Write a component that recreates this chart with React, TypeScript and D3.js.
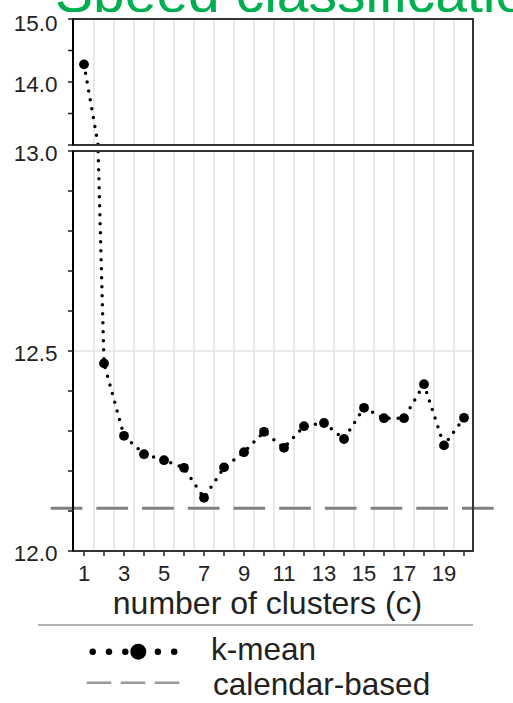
import React from 'react';
import * as d3 from 'd3';

// number of clusters and the k-mean speed error for each
const clusters = [1, 2, 3, 4, 5, 6, 7, 8, 9, 10, 11, 12, 13, 14, 15, 16, 17, 18, 19, 20];
const kMean = [14.28, 12.469, 12.288, 12.242, 12.227, 12.208, 12.133, 12.209, 12.247, 12.298,
  12.258, 12.312, 12.32, 12.28, 12.358, 12.332, 12.332, 12.417, 12.264, 12.333];
// calendar-based reference value
const calendarBased = 12.107;

const topTicks = [15, 14.5, 14, 13.5, 13];
const topLabels = ['15.0', '14.0'];
const bottomTicks = [13, 12.9, 12.8, 12.7, 12.6, 12.5, 12.4, 12.3, 12.2, 12.1, 12];
const bottomLabels = ['13.0', '12.5', '12.0'];
const xLabels = [1, 3, 5, 7, 9, 11, 13, 15, 17, 19];
const xGrid = d3.range(1.5, 20, 1);

const font = 'Liberation Sans, Arial, sans-serif';
const textColor = '#222';

const App = () => {
  const x = d3.scaleLinear().domain([0.45, 20.45]).range([73, 473]);
  const yTop = d3.scaleLinear().domain([13, 15]).range([145, 19]);
  const yBot = d3.scaleLinear().domain([12, 13]).range([551, 151]);

  const lineTop = d3.line<number>().x((_, i) => x(clusters[i])).y(d => yTop(d));
  const lineBot = d3.line<number>().x((_, i) => x(clusters[i])).y(d => yBot(d));

  const [x0, x1] = x.range();

  const panel = (y: d3.ScaleLinear<number, number>, line: d3.Line<number>, id: string) => {
    const [yb, yt] = y.range();
    return (
      <g>
        <clipPath id={id}>
          <rect x={x0} y={yt} width={x1 - x0} height={yb - yt} />
        </clipPath>
        <rect x={x0} y={yt} width={x1 - x0} height={yb - yt} fill="#fff" />
        {xGrid.map(g => (
          <line key={g} x1={x(g)} x2={x(g)} y1={yt} y2={yb} stroke="#e2e2e2" strokeWidth={1.5} />
        ))}
        <g clipPath={`url(#${id})`}>
          {y.domain()[0] <= 12.5 && y.domain()[1] >= 12.5 && (
            <line x1={x0} x2={x1} y1={y(12.5)} y2={y(12.5)} stroke="#e2e2e2" strokeWidth={1.5} />
          )}
          <path d={line(kMean) ?? ''} fill="none" stroke="#000" strokeWidth={3.5}
            strokeDasharray="0 9" strokeLinecap="round" />
          {kMean.map((v, i) => (
            <circle key={i} cx={x(clusters[i])} cy={y(v)} r={4.9} fill="#000" />
          ))}
        </g>
      </g>
    );
  };

  return (
    <svg width={513} height={703} style={{ position: 'absolute', left: 0, top: 0, background: '#fff' }}>
      <clipPath id="titleClip">
        <rect x={0} y={0} width={513} height={12} />
      </clipPath>
      <text x={55} y={12} fontFamily={font} fontSize={57} fill="#00b050" clipPath="url(#titleClip)">
        Speed classification
      </text>

      {panel(yTop, lineTop, 'clipTop')}
      {panel(yBot, lineBot, 'clipBot')}

      {/* calendar-based reference */}
      <line x1={50.7} x2={495} y1={yBot(calendarBased)} y2={yBot(calendarBased)}
        stroke="#808080" strokeWidth={3} strokeDasharray="31.7 14" />

      {/* frames */}
      <rect x={x0} y={19} width={x1 - x0} height={145 - 19} fill="none" stroke="#333" strokeWidth={2} />
      <rect x={x0} y={151} width={x1 - x0} height={551 - 151} fill="none" stroke="#333" strokeWidth={2} />
      <line x1={x0} x2={x0} y1={19} y2={145} stroke="#000" strokeWidth={2} />
      <line x1={x0} x2={x0} y1={151} y2={551} stroke="#000" strokeWidth={2} />

      {/* y ticks and labels */}
      {topTicks.map(t => (
        <line key={t} x1={68} x2={x0} y1={yTop(t)} y2={yTop(t)} stroke="#222" strokeWidth={1.5} />
      ))}
      {bottomTicks.map(t => (
        <line key={t} x1={68} x2={x0} y1={yBot(t)} y2={yBot(t)} stroke="#222" strokeWidth={1.5} />
      ))}
      {topLabels.map(l => (
        <text key={l} x={57.5} y={Math.max(yTop(+l) + 9.5, 31)} textAnchor="end" fontFamily={font}
          fontSize={22.5} fill={textColor}>{l}</text>
      ))}
      {bottomLabels.map(l => (
        <text key={l} x={57.5} y={yBot(+l) + 9.8} textAnchor="end" fontFamily={font}
          fontSize={22.5} fill={textColor}>{l}</text>
      ))}

      {/* x ticks and labels */}
      {clusters.map(c => (
        <line key={c} x1={x(c)} x2={x(c)} y1={551} y2={556} stroke="#222" strokeWidth={1.5} />
      ))}
      {xLabels.map(c => (
        <text key={c} x={x(c)} y={580.5} textAnchor="middle" fontFamily={font} fontSize={22}
          fill={textColor}>{c}</text>
      ))}
      <text x={267.5} y={613.5} textAnchor="middle" fontFamily={font} fontSize={32} fill={textColor}>
        number of clusters (c)
      </text>

      {/* legend */}
      <line x1={38} x2={473} y1={625} y2={625} stroke="#999" strokeWidth={1.5} />
      <line x1={92.7} x2={176} y1={651.7} y2={651.7} stroke="#000" strokeWidth={6.5}
        strokeDasharray="0 16.3" strokeLinecap="round" />
      <circle cx={138.3} cy={651.7} r={8} fill="#000" />
      <text x={211} y={660} fontFamily={font} fontSize={31.5} fill={textColor}>k-mean</text>
      <line x1={86.7} x2={180} y1={682.7} y2={682.7} stroke="#999" strokeWidth={2.5}
        strokeDasharray="24.5 9.5" />
      <text x={213} y={695} fontFamily={font} fontSize={31.5} fill={textColor}>calendar-based</text>
    </svg>
  );
};

export default App;
